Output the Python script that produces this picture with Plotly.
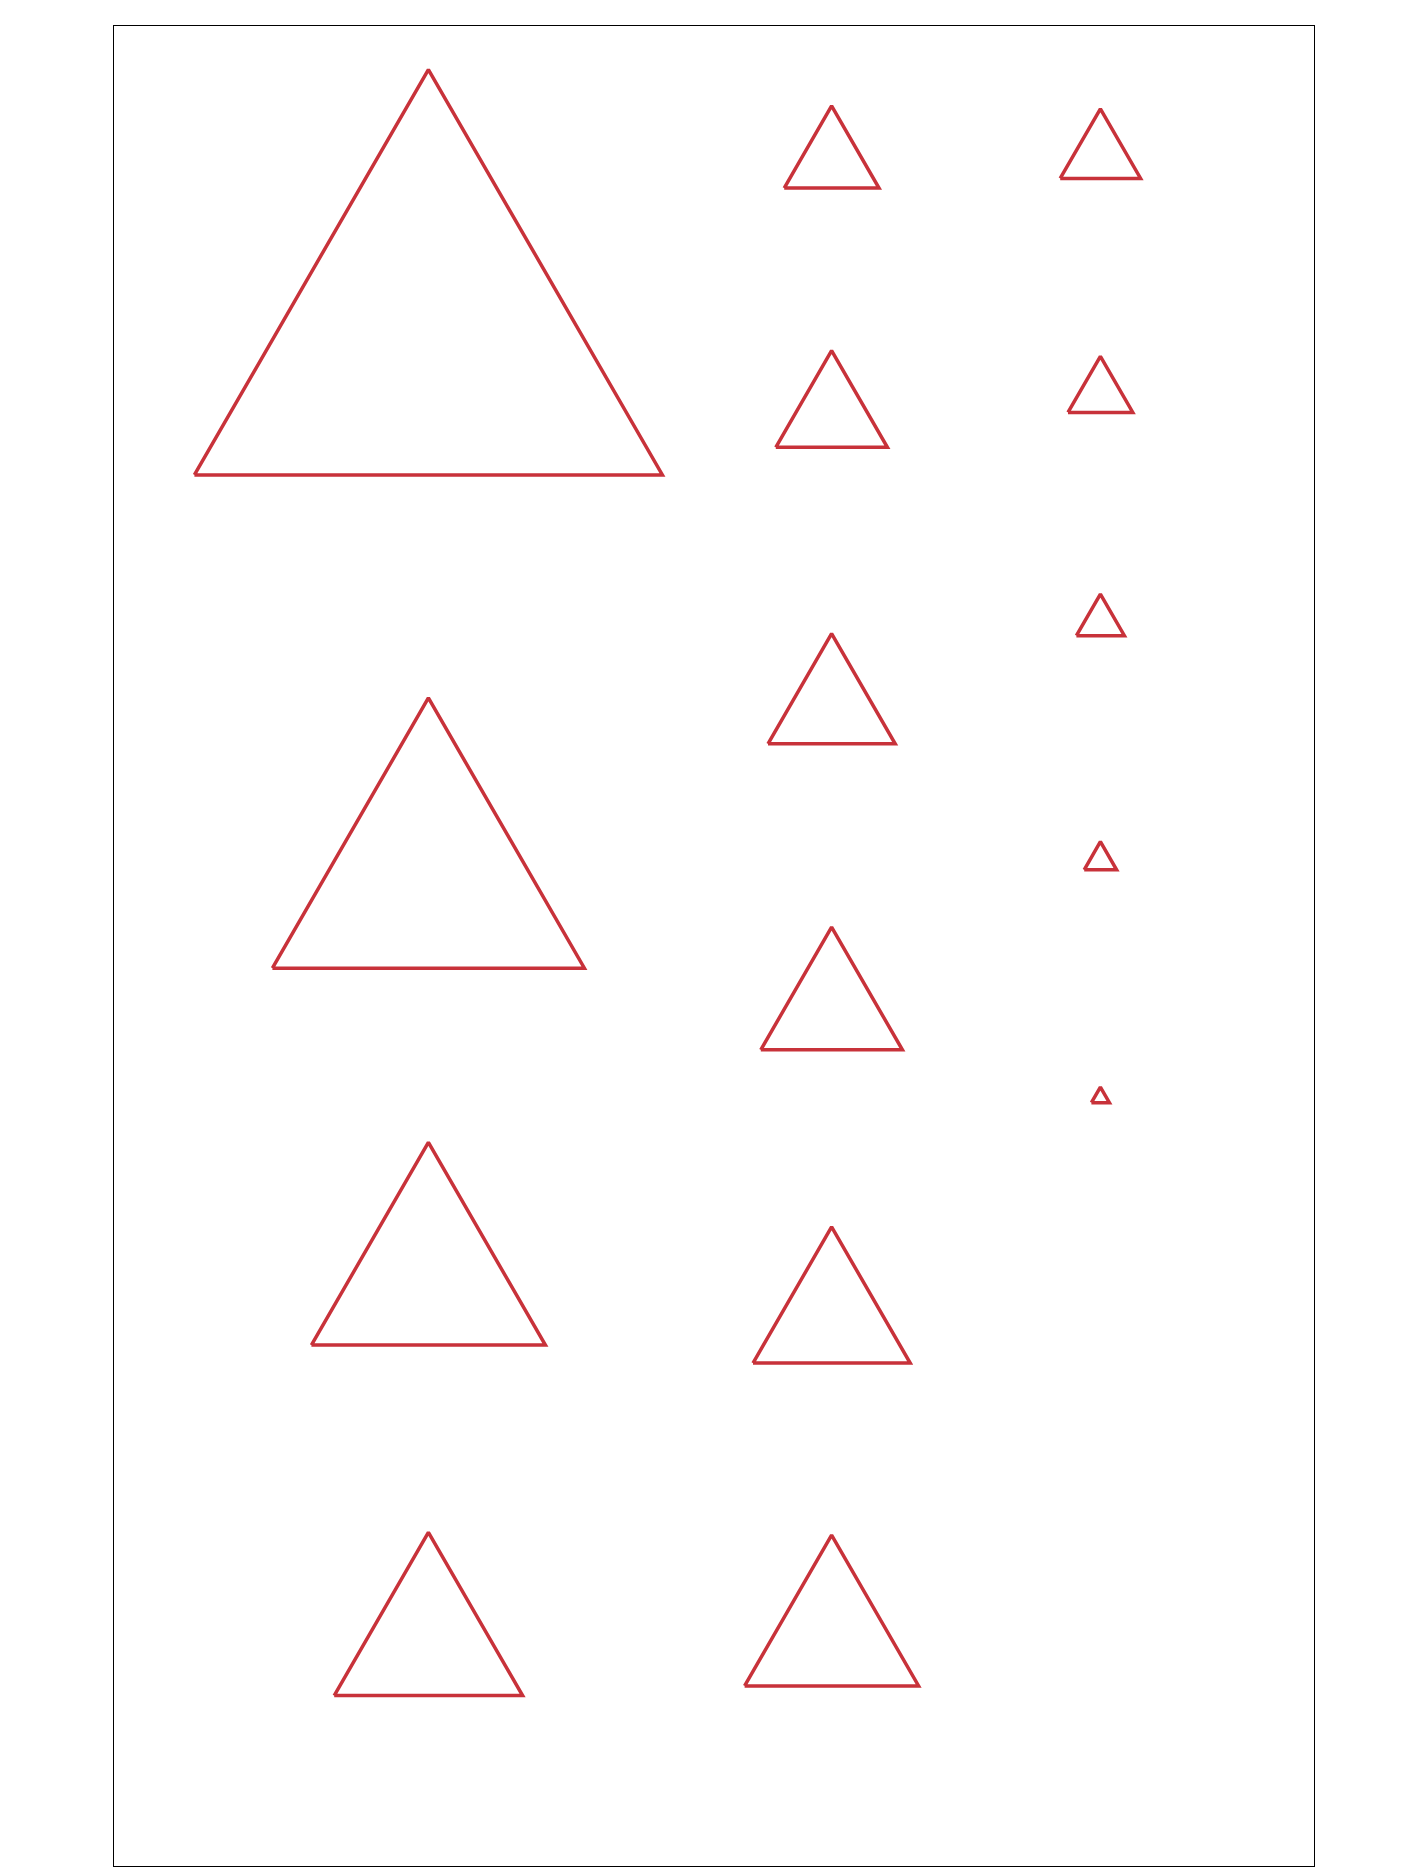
import math
import plotly.graph_objects as go

# each triangle: centre x, base y, base width
tri_x = [350, 350, 350, 350,
         686, 686, 686, 686, 686, 686,
         910, 910, 910, 910, 910]
tri_base = [389, 800, 1114, 1406,
            150, 366, 613, 868, 1129, 1398,
            142, 337, 523, 718, 912]
tri_width = [390, 260, 195, 157,
             79, 93, 106, 118, 131, 145,
             67, 54, 40, 27, 15]

red = "#c8323a"

xs, ys = [], []
for cx, by, w in zip(tri_x, tri_base, tri_width):
    h = w * math.sqrt(3) / 2
    xs += [cx - w / 2, cx + w / 2, cx, cx - w / 2, None]
    ys += [by, by, by - h, by, None]

fig = go.Figure(go.Scatter(
    x=xs, y=ys, mode="lines",
    line=dict(color=red, width=3.5),
    showlegend=False, hoverinfo="skip"))

axis = dict(showgrid=False, zeroline=False, showticklabels=False, ticks="",
            showline=True, linecolor="black", linewidth=1.2, mirror=True)
fig.update_xaxes(range=[88, 1088], **axis)
fig.update_yaxes(range=[1548, 15], **axis)
fig.update_layout(width=1404, height=1872, plot_bgcolor="white",
                  paper_bgcolor="white",
                  margin=dict(l=106, r=98, t=18, b=14))
fig.write_html("out.html")
